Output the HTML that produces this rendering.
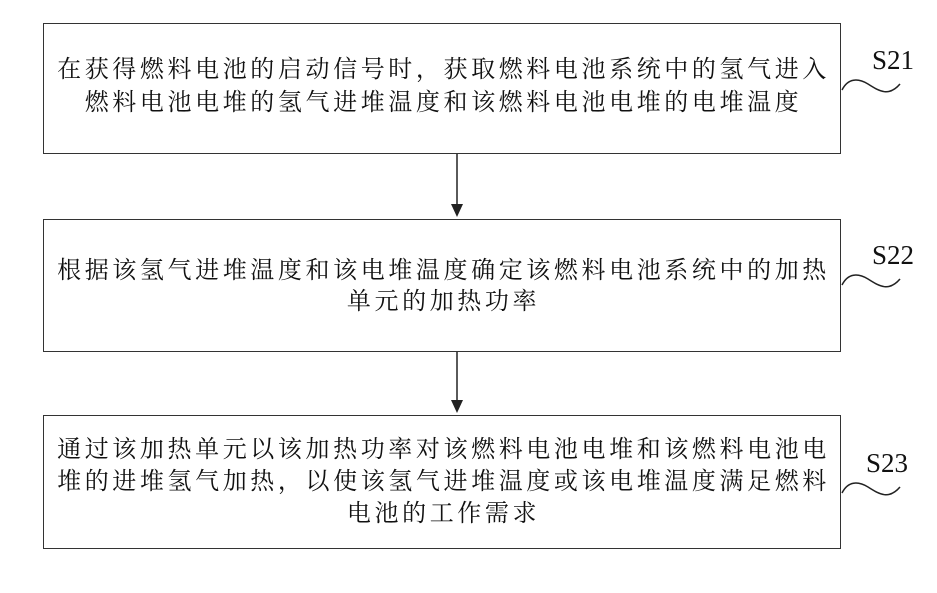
<!DOCTYPE html>
<html><head><meta charset="utf-8"><style>
body{margin:0;background:#fff;width:937px;height:593px;position:relative;overflow:hidden;font-family:"Liberation Serif","Noto Serif CJK SC","Noto Sans CJK SC",serif;color:#111}
.box{position:absolute;left:43px;width:798px;border:1.5px solid #333;box-sizing:border-box}
.t{position:absolute;left:43px;width:798px;text-align:center;font-size:24px;letter-spacing:3.6px;line-height:30px;white-space:nowrap;text-indent:3px}
.lab{position:absolute;font-size:27px;font-family:"Liberation Serif",serif}
</style></head><body>
<div class="box" style="top:23px;height:131px"></div>
<div class="box" style="top:219px;height:133px"></div>
<div class="box" style="top:415px;height:134px"></div>
<div class="t" style="top:55px">在获得燃料电池的启动信号时，获取燃料电池系统中的氢气进入</div>
<div class="t" style="top:88px">燃料电池电堆的氢气进堆温度和该燃料电池电堆的电堆温度</div>
<div class="t" style="top:256px">根据该氢气进堆温度和该电堆温度确定该燃料电池系统中的加热</div>
<div class="t" style="top:287px">单元的加热功率</div>
<div class="t" style="top:435px">通过该加热单元以该加热功率对该燃料电池电堆和该燃料电池电</div>
<div class="t" style="top:467px">堆的进堆氢气加热，以使该氢气进堆温度或该电堆温度满足燃料</div>
<div class="t" style="top:499px">电池的工作需求</div>
<div class="lab" style="left:872px;top:45px">S21</div>
<div class="lab" style="left:872px;top:240px">S22</div>
<div class="lab" style="left:866px;top:448px">S23</div>
<svg width="937" height="593" style="position:absolute;left:0;top:0">
<g stroke="#222" stroke-width="1.5" fill="none">
<path d="M842 90 C848 78 858 78 868 84 S888 98 900 84"/>
<path d="M842 285 C848 273 858 273 868 279 S888 293 900 279"/>
<path d="M842 493 C848 481 858 481 868 487 S888 501 900 487"/>
<line x1="457" y1="154" x2="457" y2="207"/>
<line x1="457" y1="352" x2="457" y2="403"/>
</g>
<polygon points="451,204 463,204 457,217" fill="#222"/>
<polygon points="451,400 463,400 457,413" fill="#222"/>
</svg>
</body></html>
